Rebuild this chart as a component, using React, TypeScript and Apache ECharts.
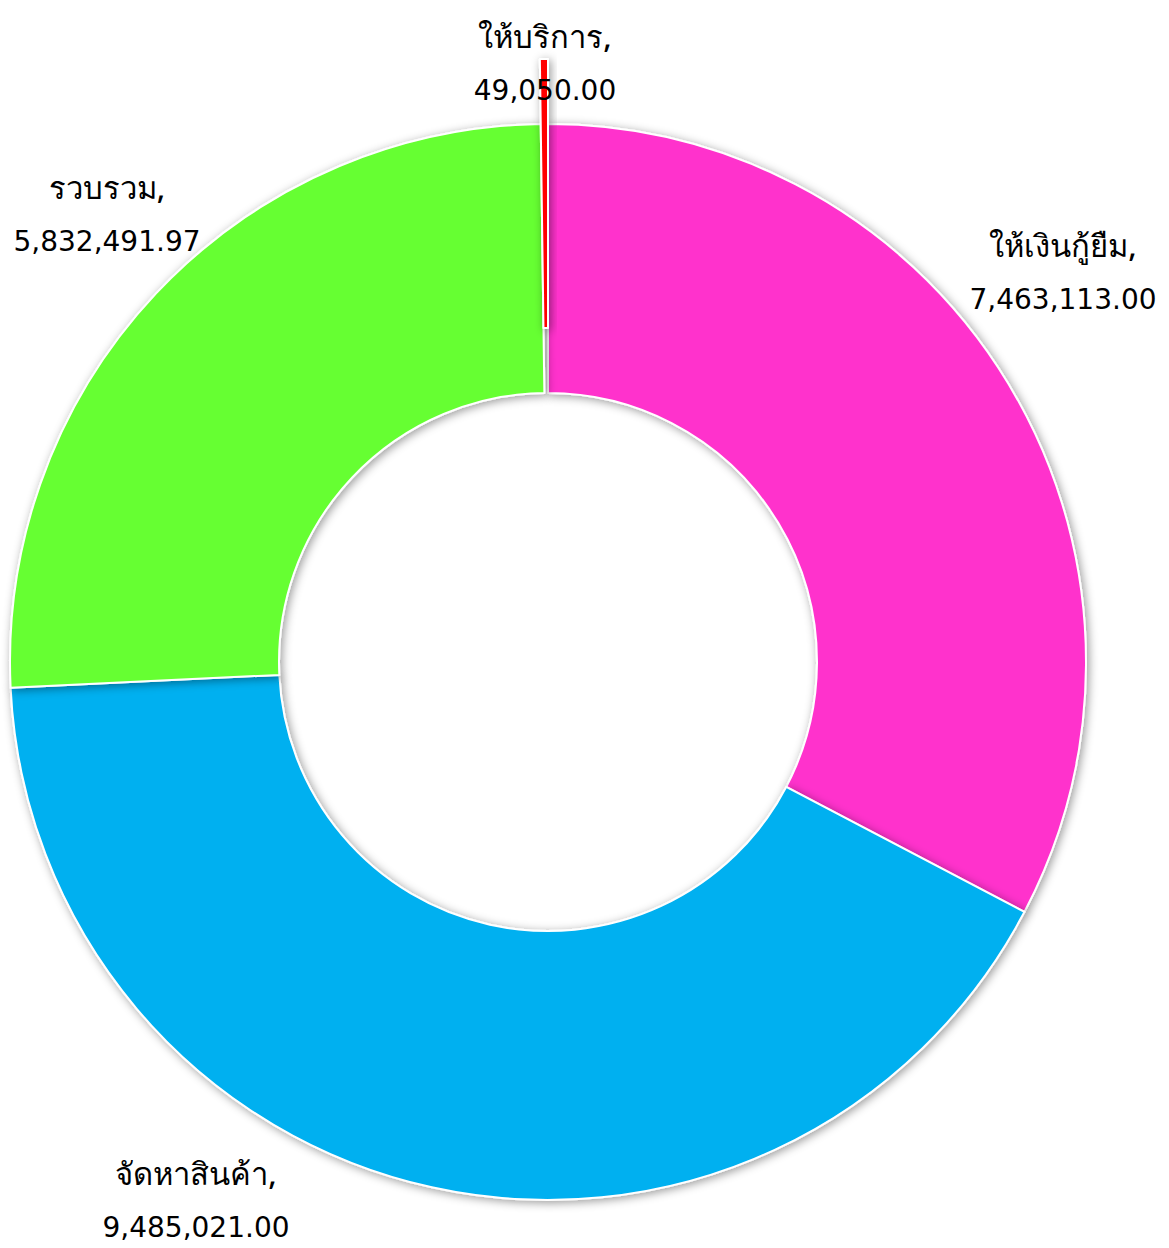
import React, { useEffect, useRef } from "react";
import * as echarts from "echarts";

const categories = ["ให้เงินกู้ยืม", "จัดหาสินค้า", "รวบรวม", "ให้บริการ"];
const values = [7463113.0, 9485021.0, 5832491.97, 49050.0];
const colors = ["#FF33CC", "#00B0F0", "#66FF33", "#FF0000"];
const exploded = [false, false, false, true];
// label block centres (page pixels)
const labelX = [1063, 196, 107, 545];
const labelY = [272, 1200, 214, 63];

const fmt = (v: number) =>
  v.toLocaleString("en-US", { minimumFractionDigits: 2, maximumFractionDigits: 2 });

const CENTER = [548, 662];
const R_IN = 269;
const R_OUT = 538;
const EXPLODE = 65;

const shadow = {
  borderColor: "#ffffff",
  borderWidth: 2,
  shadowBlur: 10,
  shadowColor: "rgba(0,0,0,0.4)",
  shadowOffsetX: 2,
  shadowOffsetY: 2,
};

export default function App() {
  const ref = useRef<HTMLDivElement>(null);
  useEffect(() => {
    if (!ref.current) return;
    const chart = echarts.init(ref.current, null, { renderer: "svg" });
    chart.setOption({
      animation: false,
      backgroundColor: "#ffffff",
      series: [
        {
          type: "pie",
          center: CENTER,
          radius: [R_IN, R_OUT],
          startAngle: 90,
          clockwise: true,
          avoidLabelOverlap: false,
          silent: true,
          itemStyle: shadow,
          label: {
            show: true,
            position: "outside",
            color: "#000000",
            align: "center",
            formatter: (p: any) => `{n|${p.name},}\n{v|${fmt(p.value)}}`,
            rich: {
              n: {
                fontFamily: "Noto Sans, sans-serif",
                fontSize: 31,
                fontWeight: 500,
                lineHeight: 54,
                color: "#000000",
              },
              v: {
                fontFamily: "DejaVu Sans, sans-serif",
                fontSize: 28,
                lineHeight: 54,
                color: "#000000",
              },
            },
          },
          labelLine: { show: false },
          labelLayout: (p: any) => ({
            x: labelX[p.dataIndex],
            y: labelY[p.dataIndex],
            align: "center",
            verticalAlign: "middle",
          }),
          emphasis: { disabled: true },
          data: categories.map((c, i) => ({
            name: c,
            value: values[i],
            itemStyle: exploded[i]
              ? { color: "rgba(0,0,0,0)", borderWidth: 0, shadowBlur: 0, shadowColor: "rgba(0,0,0,0)" }
              : { color: colors[i] },
          })),
        },
        {
          type: "pie",
          center: CENTER,
          radius: [R_IN + EXPLODE, R_OUT + EXPLODE],
          startAngle: 90,
          clockwise: true,
          silent: true,
          label: { show: false },
          labelLine: { show: false },
          emphasis: { disabled: true },
          itemStyle: shadow,
          data: categories.map((c, i) => ({
            name: c,
            value: values[i],
            itemStyle: exploded[i]
              ? { color: colors[i] }
              : { color: "rgba(0,0,0,0)", borderWidth: 0, shadowBlur: 0, shadowColor: "rgba(0,0,0,0)" },
          })),
        },
      ],
    });
    return () => chart.dispose();
  }, []);
  return (
    <div
      ref={ref}
      style={{ position: "absolute", left: 0, top: 0, width: 1169, height: 1248 }}
    />
  );
}
